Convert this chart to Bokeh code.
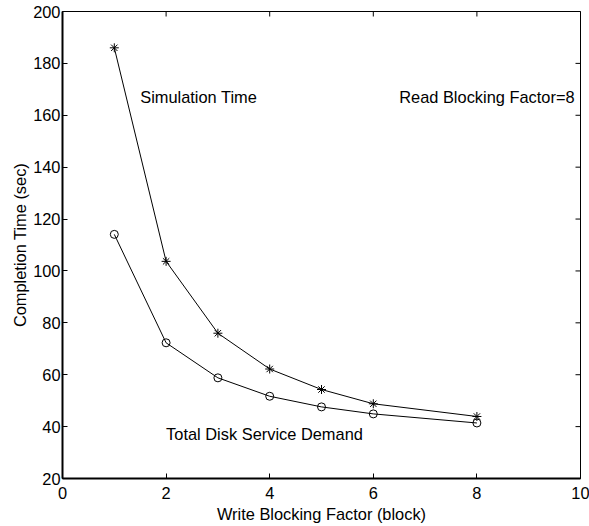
import math
from bokeh.plotting import figure
from bokeh.models import FixedTicker, Range1d, Label
from bokeh.embed import file_html
from bokeh.resources import INLINE

# Data
write_block = [1, 2, 3, 4, 5, 6, 8]
simulation_time = [186.0, 103.7, 76.0, 62.2, 54.3, 48.8, 43.9]
disk_service_demand = [114.1, 72.3, 58.8, 51.7, 47.6, 44.9, 41.4]

x_ticks = [0, 2, 4, 6, 8, 10]
y_ticks = [20, 40, 60, 80, 100, 120, 140, 160, 180, 200]

FONT = "Liberation Sans"
FS = "16.4px"

p = figure(width=589, height=526, output_backend="svg", toolbar_location=None,
           x_range=Range1d(x_ticks[0], x_ticks[-1]), y_range=Range1d(y_ticks[0], y_ticks[-1]),
           min_border_left=62, min_border_right=9, min_border_top=11, min_border_bottom=48)
p.outline_line_color = "black"
p.outline_line_width = 1
p.xgrid.visible = False
p.ygrid.visible = False
p.background_fill_color = "white"
p.border_fill_color = "white"

p.xaxis.ticker = FixedTicker(ticks=x_ticks)
p.yaxis.ticker = FixedTicker(ticks=y_ticks)
for ax in (p.xaxis[0], p.yaxis[0]):
    ax.axis_line_width = 2
    ax.axis_line_color = "black"
    ax.major_tick_in = 5
    ax.major_tick_out = 0
    ax.minor_tick_in = 0
    ax.minor_tick_out = 0
    ax.major_tick_line_color = "black"
    ax.major_label_text_font = FONT
    ax.major_label_text_font_size = FS
    ax.major_label_text_color = "black"
    ax.axis_label_text_font = FONT
    ax.axis_label_text_font_size = FS
    ax.axis_label_text_font_style = "normal"
    ax.axis_label_text_color = "black"

p.xaxis.axis_label = "Write Blocking Factor (block)"
p.yaxis.axis_label = "Completion Time (sec)"
p.xaxis.major_label_standoff = 8
p.xaxis.axis_label_standoff = 3
p.yaxis.major_label_standoff = 2
p.yaxis.axis_label_standoff = 1

# inward ticks on the top and right edges of the box (half of each dash is clipped by the frame)
p.scatter(x_ticks, [y_ticks[-1]] * len(x_ticks), marker="dash", angle=math.pi / 2,
          size=10, line_color="black", line_width=1)
p.scatter([x_ticks[-1]] * len(y_ticks), y_ticks, marker="dash",
          size=10, line_color="black", line_width=1)

p.line(write_block, simulation_time, line_color="black", line_width=1)
p.scatter(write_block, simulation_time, marker="asterisk", size=9,
          line_color="black", line_width=1)
p.line(write_block, disk_service_demand, line_color="black", line_width=1)
p.scatter(write_block, disk_service_demand, marker="circle", size=8,
          line_color="black", fill_color=None, line_width=1)

for txt, x, y in [("Simulation Time", 1.5, 167.0),
                  ("Read Blocking Factor=8", 6.5, 167.0),
                  ("Total Disk Service Demand", 2.0, 37.3)]:
    p.add_layout(Label(x=x, y=y, text=txt, text_font=FONT, text_font_size=FS,
                       text_color="black", text_baseline="alphabetic", text_align="left"))

open("out.html", "w").write(file_html(p, INLINE))
